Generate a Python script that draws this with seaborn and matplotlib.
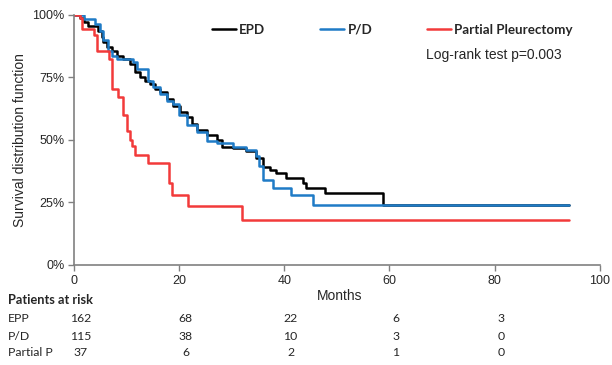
import pandas as pd
import matplotlib.pyplot as plt
import matplotlib.transforms as mtransforms
import seaborn as sns

# --- data (months, survival %) ---
EPD_TIME = [0, 1.1, 1.8, 2.7, 4.6, 5.3, 5.6, 6.2, 7.2, 8.1, 9.4, 10.6, 11.6, 12.5,
            13.5, 14.4, 15.4, 16.3, 17.6, 18.9, 20.2, 21.4, 22.4, 23.3, 25.2, 27.1,
            28.1, 30.2, 32.8, 34.7, 35.9, 37.3, 38.5, 40.4, 43.6, 44.2, 47.7, 58.8, 94.2]
EPD_SURV = [100, 98.7, 97, 95.5, 93.7, 91, 89, 87, 85.7, 83.7, 82.3, 80.3, 77, 75,
            73.6, 72.3, 70.3, 69, 66.3, 63.6, 61, 59, 56.5, 54, 52, 50,
            47, 46.6, 45.5, 42.8, 39, 37.9, 36.8, 34.8, 32.8, 30.8, 28.8, 23.8, 23.8]

PD_TIME = [0, 1.8, 4.0, 4.9, 5.6, 6.5, 7.2, 8.1, 11.3, 11.9, 14.1, 15.1, 16.3, 17.6,
           18.9, 20.0, 21.4, 23.3, 25.2, 27.1, 30.2, 32.8, 34.7, 35.2, 36.0, 37.8,
           41.3, 45.4, 94.1]
PD_SURV = [100, 98.4, 96.4, 93.7, 89.8, 85.7, 83.7, 82.3, 81, 78.3, 73.6, 71, 68.3, 65.6,
           64.3, 60, 56, 53, 49.5, 48.9, 47, 46, 43.5, 39.5, 34, 30.8,
           28, 23.8, 23.8]

PP_TIME = [0, 1.1, 1.6, 3.8, 4.3, 6.7, 7.3, 8.4, 9.3, 10.0, 10.6, 11.0, 11.6, 14.1,
           18.1, 18.6, 21.7, 31.9, 94.1]
PP_SURV = [100, 98.7, 94.4, 92, 85.7, 82.3, 70.3, 67, 60, 53.5, 50, 47.5, 44, 40.8,
           32.8, 28, 23.4, 17.8, 17.8]

GROUPS = ["EPD", "P/D", "Partial Pleurectomy"]
COLORS = ["#000000", "#1f7bc6", "#f23a3a"]

RISK_TIMES = [0, 20, 40, 60, 80]
RISK_LABELS = ["EPP", "P/D", "Partial P"]
RISK_EPP = [162, 68, 22, 6, 3]
RISK_PD = [115, 38, 10, 3, 0]
RISK_PP = [37, 6, 2, 1, 0]

# --- long table for seaborn ---
frames = []
for name, t, s in zip(GROUPS, [EPD_TIME, PD_TIME, PP_TIME], [EPD_SURV, PD_SURV, PP_SURV]):
    frames.append(pd.DataFrame({"Months": t, "Survival": s, "Group": name}))
df = pd.concat(frames, ignore_index=True)

sns.set_theme(style="ticks")
plt.rcParams["font.family"] = ["Liberation Sans", "DejaVu Sans"]

fig = plt.figure(figsize=(6.12, 3.65), dpi=100)
ax = fig.add_axes([0.121, 0.274, 0.859, 0.685])

sns.lineplot(data=df, x="Months", y="Survival", hue="Group", hue_order=GROUPS,
             palette=COLORS, drawstyle="steps-post", estimator=None, sort=False,
             linewidth=1.8, ax=ax)

ax.set_xlim(0, 100)
ax.set_ylim(0, 100)
ax.set_xticks([0, 20, 40, 60, 80, 100])
ax.set_yticks([0, 25, 50, 75, 100])
ax.set_yticklabels([f"{v}%" for v in [0, 25, 50, 75, 100]])
ax.tick_params(axis="both", labelsize=9, length=4, width=1, color="#808080",
               direction="out", pad=3)
for side in ["top", "right"]:
    ax.spines[side].set_visible(False)
for side in ["left", "bottom"]:
    ax.spines[side].set_color("#808080")
    ax.spines[side].set_linewidth(1.2)

ax.set_ylabel("Survival distribution function", fontsize=10, labelpad=4)
ax.set_xlabel("Months", fontsize=10)
ax.xaxis.set_label_coords(0.506, -0.095)

sns.move_legend(ax, "center", bbox_to_anchor=(0.641, 0.918), bbox_transform=fig.transFigure,
                ncol=3, frameon=False, title=None, handlelength=1.8, handletextpad=0.25,
                columnspacing=4.1, prop={"family": "Lato", "weight": "bold", "size": 9.6})

fig.text(0.696, 0.849, "Log-rank test p=0.003", fontsize=10, ha="left", va="center")

# --- patients at risk table ---
trans = mtransforms.blended_transform_factory(ax.transData, fig.transFigure)
fig.text(0.013, 1 - 300 / 365, "Patients at risk", family="Lato", weight="bold",
         fontsize=9.2, va="center")
row_y = [1 - 318 / 365, 1 - 336 / 365, 1 - 353 / 365]
for label, vals, y in zip(RISK_LABELS, [RISK_EPP, RISK_PD, RISK_PP], row_y):
    fig.text(0.013, y, label, family="Lato", fontsize=8.8, va="center")
    for t, v in zip(RISK_TIMES, vals):
        ax.text(t + 1.2, y, str(v), transform=trans, family="Lato", fontsize=8.8,
                ha="center", va="center")

fig.savefig("out.png", dpi=100)
